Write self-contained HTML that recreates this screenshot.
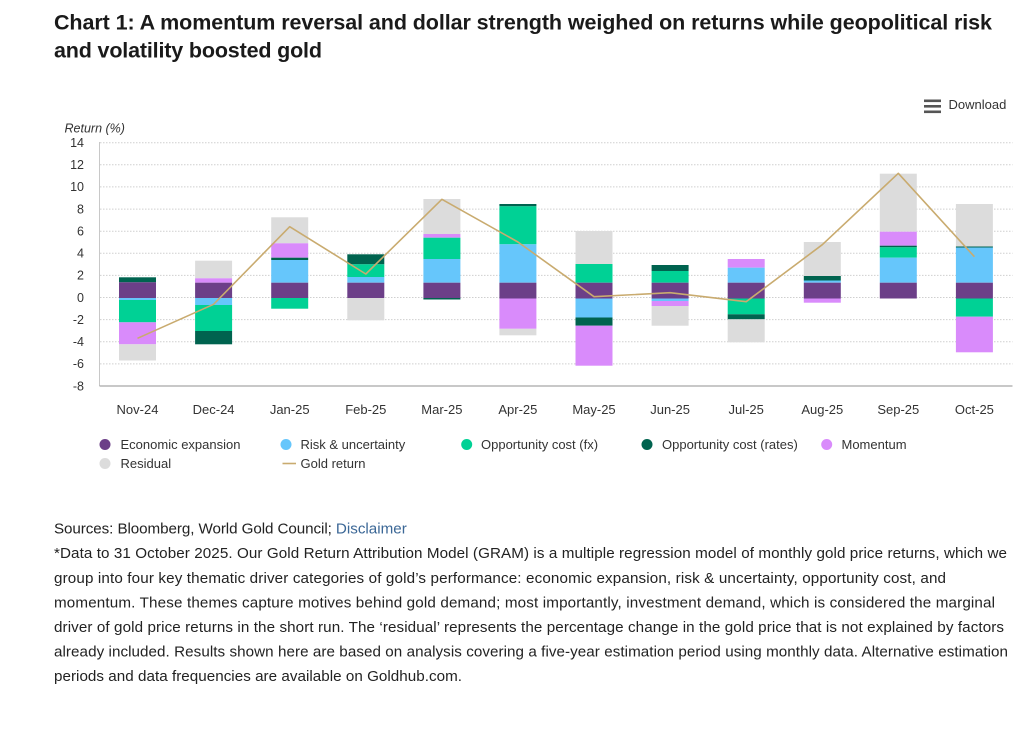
<!DOCTYPE html>
<html>
<head>
<meta charset="utf-8">
<style>
html,body{margin:0;padding:0;background:#fff;}
svg{display:block;}
text{font-family:"Liberation Sans",Arial,sans-serif;}
</style>
</head>
<body>
<svg width="1024" height="733" viewBox="0 0 1024 733" xmlns="http://www.w3.org/2000/svg">
<rect x="0" y="0" width="1024" height="733" fill="#fff"/>

<!-- Title -->
<text x="54" y="29.5" font-size="21.5" font-weight="bold" fill="#1a1a1a" textLength="938" lengthAdjust="spacing">Chart 1: A momentum reversal and dollar strength weighed on returns while geopolitical risk</text>
<text x="54" y="57.5" font-size="21.5" font-weight="bold" fill="#1a1a1a" textLength="268" lengthAdjust="spacing">and volatility boosted gold</text>

<!-- Download -->
<rect x="924" y="99.5" width="17" height="2.6" fill="#555"/>
<rect x="924" y="105" width="17" height="2.6" fill="#555"/>
<rect x="924" y="110.5" width="17" height="2.6" fill="#555"/>
<text x="948.5" y="109" font-size="13" fill="#333">Download</text>

<!-- Axis title -->
<text x="64.5" y="132.5" font-size="12.5" font-style="italic" fill="#333">Return (%)</text>

<!-- Gridlines -->
<g stroke="#cfcfcf" stroke-width="1" stroke-dasharray="1.5 1.5">
<line x1="100" y1="142.7" x2="1012.5" y2="142.7"/>
<line x1="100" y1="164.8" x2="1012.5" y2="164.8"/>
<line x1="100" y1="186.9" x2="1012.5" y2="186.9"/>
<line x1="100" y1="209.1" x2="1012.5" y2="209.1"/>
<line x1="100" y1="231.2" x2="1012.5" y2="231.2"/>
<line x1="100" y1="253.3" x2="1012.5" y2="253.3"/>
<line x1="100" y1="275.4" x2="1012.5" y2="275.4"/>
<line x1="100" y1="297.5" x2="1012.5" y2="297.5"/>
<line x1="100" y1="319.6" x2="1012.5" y2="319.6"/>
<line x1="100" y1="341.8" x2="1012.5" y2="341.8"/>
<line x1="100" y1="363.9" x2="1012.5" y2="363.9"/>
</g>
<line x1="99.5" y1="142" x2="99.5" y2="386" stroke="#c8c8c8" stroke-width="1"/>
<line x1="99.5" y1="386" x2="1012.5" y2="386" stroke="#a8a8a8" stroke-width="1.2"/>

<!-- Y labels -->
<g font-size="12.5" fill="#333" text-anchor="end">
<text x="84" y="147">14</text>
<text x="84" y="169.1">12</text>
<text x="84" y="191.2">10</text>
<text x="84" y="213.4">8</text>
<text x="84" y="235.5">6</text>
<text x="84" y="257.6">4</text>
<text x="84" y="279.7">2</text>
<text x="84" y="301.8">0</text>
<text x="84" y="323.9">-2</text>
<text x="84" y="346.1">-4</text>
<text x="84" y="368.2">-6</text>
<text x="84" y="390.3">-8</text>
</g>

<!-- X labels -->
<g font-size="13" fill="#333" text-anchor="middle">
<text x="137.5" y="414">Nov-24</text>
<text x="213.6" y="414">Dec-24</text>
<text x="289.7" y="414">Jan-25</text>
<text x="365.8" y="414">Feb-25</text>
<text x="441.9" y="414">Mar-25</text>
<text x="517.9" y="414">Apr-25</text>
<text x="594" y="414">May-25</text>
<text x="670.1" y="414">Jun-25</text>
<text x="746.2" y="414">Jul-25</text>
<text x="822.3" y="414">Aug-25</text>
<text x="898.3" y="414">Sep-25</text>
<text x="974.4" y="414">Oct-25</text>
</g>

<!-- Bars -->
<g>
<!-- Nov -->
<rect x="119" y="277.3" width="37" height="5" fill="#00634f"/>
<rect x="119" y="282.3" width="37" height="15.7" fill="#6c3f88"/>
<rect x="119" y="298" width="37" height="2" fill="#66c6fb"/>
<rect x="119" y="300" width="37" height="22.3" fill="#00d195"/>
<rect x="119" y="322.3" width="37" height="22" fill="#d98bfb"/>
<rect x="119" y="344.3" width="37" height="16.2" fill="#dcdcdc"/>
<!-- Dec -->
<rect x="195.1" y="260.7" width="37" height="17.6" fill="#dcdcdc"/>
<rect x="195.1" y="278.3" width="37" height="4.4" fill="#d98bfb"/>
<rect x="195.1" y="282.7" width="37" height="15.3" fill="#6c3f88"/>
<rect x="195.1" y="298" width="37" height="7" fill="#66c6fb"/>
<rect x="195.1" y="305" width="37" height="26" fill="#00d195"/>
<rect x="195.1" y="331" width="37" height="13.3" fill="#00634f"/>
<!-- Jan -->
<rect x="271.2" y="217.3" width="37" height="26" fill="#dcdcdc"/>
<rect x="271.2" y="243.3" width="37" height="14.4" fill="#d98bfb"/>
<rect x="271.2" y="257.7" width="37" height="2.3" fill="#00634f"/>
<rect x="271.2" y="260" width="37" height="22.7" fill="#66c6fb"/>
<rect x="271.2" y="282.7" width="37" height="15.3" fill="#6c3f88"/>
<rect x="271.2" y="298" width="37" height="10.7" fill="#00d195"/>
<!-- Feb -->
<rect x="347.3" y="254.3" width="37" height="10" fill="#00634f"/>
<rect x="347.3" y="264.3" width="37" height="12.7" fill="#00d195"/>
<rect x="347.3" y="277" width="37" height="5.7" fill="#66c6fb"/>
<rect x="347.3" y="282.7" width="37" height="15.3" fill="#6c3f88"/>
<rect x="347.3" y="298" width="37" height="22.3" fill="#dcdcdc"/>
<!-- Mar -->
<rect x="423.4" y="199" width="37" height="35" fill="#dcdcdc"/>
<rect x="423.4" y="234" width="37" height="3.7" fill="#d98bfb"/>
<rect x="423.4" y="237.7" width="37" height="21.3" fill="#00d195"/>
<rect x="423.4" y="259" width="37" height="23.7" fill="#66c6fb"/>
<rect x="423.4" y="282.7" width="37" height="15.3" fill="#6c3f88"/>
<rect x="423.4" y="298" width="37" height="1.5" fill="#00634f"/>
<!-- Apr -->
<rect x="499.4" y="204" width="37" height="2.3" fill="#00634f"/>
<rect x="499.4" y="206.3" width="37" height="38" fill="#00d195"/>
<rect x="499.4" y="244.3" width="37" height="38.4" fill="#66c6fb"/>
<rect x="499.4" y="282.7" width="37" height="15.8" fill="#6c3f88"/>
<rect x="499.4" y="298.5" width="37" height="30.3" fill="#d98bfb"/>
<rect x="499.4" y="328.8" width="37" height="6.5" fill="#dcdcdc"/>
<!-- May -->
<rect x="575.5" y="231" width="37" height="33" fill="#dcdcdc"/>
<rect x="575.5" y="264" width="37" height="18.7" fill="#00d195"/>
<rect x="575.5" y="282.7" width="37" height="15.8" fill="#6c3f88"/>
<rect x="575.5" y="298.5" width="37" height="19" fill="#66c6fb"/>
<rect x="575.5" y="317.5" width="37" height="8.2" fill="#00634f"/>
<rect x="575.5" y="325.7" width="37" height="40" fill="#d98bfb"/>
<!-- Jun -->
<rect x="651.6" y="265" width="37" height="6" fill="#00634f"/>
<rect x="651.6" y="271" width="37" height="11.7" fill="#00d195"/>
<rect x="651.6" y="282.7" width="37" height="15.8" fill="#6c3f88"/>
<rect x="651.6" y="298.5" width="37" height="2.5" fill="#66c6fb"/>
<rect x="651.6" y="301" width="37" height="5" fill="#d98bfb"/>
<rect x="651.6" y="306" width="37" height="19.7" fill="#dcdcdc"/>
<!-- Jul -->
<rect x="727.7" y="259" width="37" height="8.7" fill="#d98bfb"/>
<rect x="727.7" y="267.7" width="37" height="15" fill="#66c6fb"/>
<rect x="727.7" y="282.7" width="37" height="15.8" fill="#6c3f88"/>
<rect x="727.7" y="298.5" width="37" height="15.8" fill="#00d195"/>
<rect x="727.7" y="314.3" width="37" height="5" fill="#00634f"/>
<rect x="727.7" y="319.3" width="37" height="23" fill="#dcdcdc"/>
<!-- Aug -->
<rect x="803.8" y="242" width="37" height="34" fill="#dcdcdc"/>
<rect x="803.8" y="276" width="37" height="4.5" fill="#00634f"/>
<rect x="803.8" y="280.5" width="37" height="2.2" fill="#66c6fb"/>
<rect x="803.8" y="282.7" width="37" height="15.8" fill="#6c3f88"/>
<rect x="803.8" y="298.5" width="37" height="4.2" fill="#d98bfb"/>
<!-- Sep -->
<rect x="879.8" y="173.7" width="37" height="58" fill="#dcdcdc"/>
<rect x="879.8" y="231.7" width="37" height="14" fill="#d98bfb"/>
<rect x="879.8" y="245.7" width="37" height="1.6" fill="#00634f"/>
<rect x="879.8" y="247.3" width="37" height="10.4" fill="#00d195"/>
<rect x="879.8" y="257.7" width="37" height="25" fill="#66c6fb"/>
<rect x="879.8" y="282.7" width="37" height="15.8" fill="#6c3f88"/>
<!-- Oct -->
<rect x="955.9" y="204" width="37" height="42.5" fill="#dcdcdc"/>
<rect x="955.9" y="246.5" width="37" height="1" fill="#00634f"/>
<rect x="955.9" y="247.5" width="37" height="35.2" fill="#66c6fb"/>
<rect x="955.9" y="282.7" width="37" height="15.8" fill="#6c3f88"/>
<rect x="955.9" y="298.5" width="37" height="18.2" fill="#00d195"/>
<rect x="955.9" y="316.7" width="37" height="35.6" fill="#d98bfb"/>
</g>

<!-- Gold return line -->
<polyline fill="none" stroke="#c9ab6f" stroke-width="1.6" stroke-linejoin="round"
points="137.5,338.3 213.6,304.3 289.7,226.7 365.8,274 441.9,199.3 517.9,242 594,296.7 670.1,292.7 746.2,301.7 822.3,244.7 898.3,173.3 974.4,256.7"/>

<!-- Legend -->
<g font-size="13" fill="#333">
<circle cx="105" cy="444.5" r="5.5" fill="#6c3f88"/>
<text x="120.5" y="449">Economic expansion</text>
<circle cx="286" cy="444.5" r="5.5" fill="#66c6fb"/>
<text x="300.5" y="449">Risk &amp; uncertainty</text>
<circle cx="466.7" cy="444.5" r="5.5" fill="#00d195"/>
<text x="481" y="449">Opportunity cost (fx)</text>
<circle cx="647" cy="444.5" r="5.5" fill="#00634f"/>
<text x="662" y="449">Opportunity cost (rates)</text>
<circle cx="826.7" cy="444.5" r="5.5" fill="#d98bfb"/>
<text x="841.5" y="449">Momentum</text>
<circle cx="105" cy="463.5" r="5.5" fill="#dcdcdc"/>
<text x="120.5" y="468">Residual</text>
<line x1="282.5" y1="463.5" x2="296" y2="463.5" stroke="#c9ab6f" stroke-width="1.6"/>
<text x="300.5" y="468">Gold return</text>
</g>

<!-- Footnotes -->
<g font-size="15.2" fill="#222">
<text x="54" y="533.5"><tspan textLength="282" lengthAdjust="spacing">Sources: Bloomberg, World Gold Council; </tspan><tspan fill="#3b6796">Disclaimer</tspan></text>
<text x="54" y="558.2" textLength="953" lengthAdjust="spacing">*Data to 31 October 2025. Our Gold Return Attribution Model (GRAM) is a multiple regression model of monthly gold price returns, which we</text>
<text x="54" y="582.8" textLength="892" lengthAdjust="spacing">group into four key thematic driver categories of gold’s performance: economic expansion, risk &amp; uncertainty, opportunity cost, and</text>
<text x="54" y="607.4" textLength="941" lengthAdjust="spacing">momentum. These themes capture motives behind gold demand; most importantly, investment demand, which is considered the marginal</text>
<text x="54" y="632" textLength="950" lengthAdjust="spacing">driver of gold price returns in the short run. The ‘residual’ represents the percentage change in the gold price that is not explained by factors</text>
<text x="54" y="656.6" textLength="954" lengthAdjust="spacing">already included. Results shown here are based on analysis covering a five-year estimation period using monthly data. Alternative estimation</text>
<text x="54" y="681.2" textLength="408" lengthAdjust="spacing">periods and data frequencies are available on Goldhub.com.</text>
</g>
</svg>
</body>
</html>
